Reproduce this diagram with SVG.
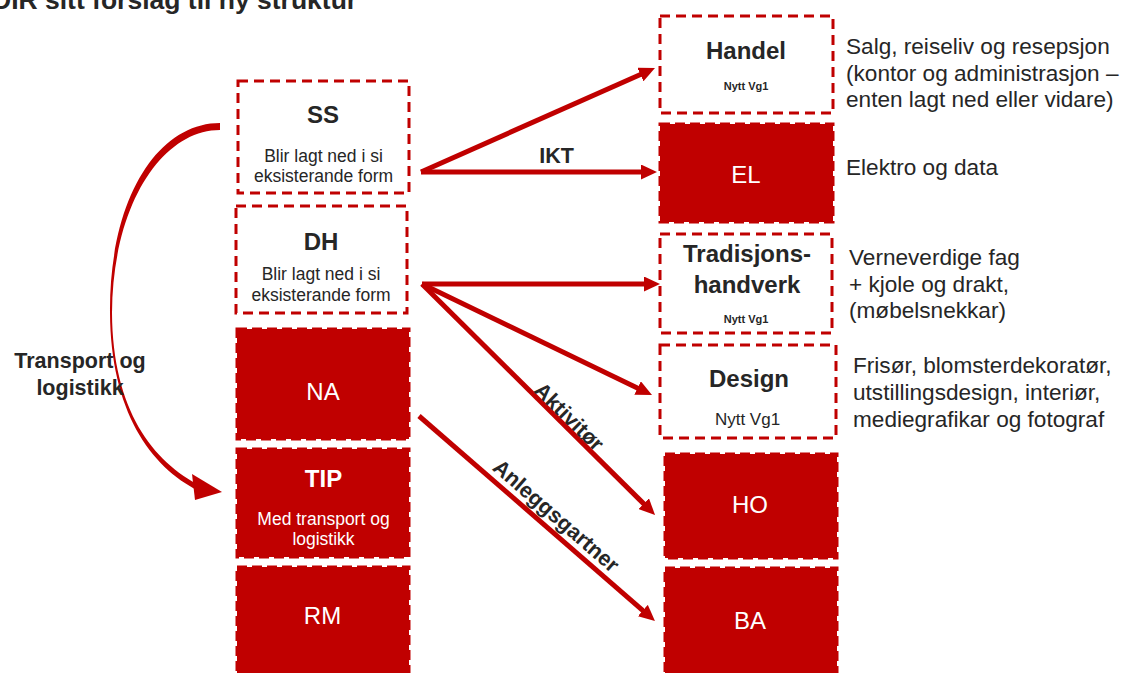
<svg xmlns="http://www.w3.org/2000/svg" width="1125" height="673" viewBox="0 0 1125 673">
<style>
text{font-family:"Liberation Sans",Arial,Helvetica,sans-serif;fill:#262626}
.b{font-weight:bold}
.t{font-size:24px;font-weight:bold;text-anchor:middle}
.s{font-size:17.5px;text-anchor:middle}
.w{fill:#ffffff}
.wl{font-size:24px;text-anchor:middle;fill:#ffffff}
.d{font-size:22.6px}
.lbl{font-size:21.5px;font-weight:bold;text-anchor:middle}
.ob{fill:#ffffff;stroke:#c00000;stroke-width:3;stroke-dasharray:10 6}
.fb{fill:#c00000;stroke:#c00000;stroke-width:3;stroke-dasharray:10 5}
.ar{fill:none;stroke:#c00000;stroke-width:5;marker-end:url(#ah)}
</style>
<defs>
<marker id="ah" markerUnits="userSpaceOnUse" markerWidth="17" markerHeight="15" refX="2" refY="7.5" orient="auto">
<path d="M0,0 L16,7.5 L0,15 z" fill="#c00000"/>
</marker>
</defs>
<rect width="1125" height="673" fill="#ffffff"/>
<text id="title" class="b" x="-8" y="9" font-size="26.5">DIR sitt forslag til ny struktur</text>

<g id="connectors">
<line class="ar" x1="421" y1="172" x2="642.2" y2="73.7"/>
<line class="ar" x1="421" y1="172" x2="643" y2="172"/>
<line class="ar" x1="422" y1="284" x2="646" y2="284"/>
<line class="ar" x1="422" y1="284" x2="639.4" y2="388.9"/>
<line class="ar" x1="422" y1="284" x2="645.1" y2="505.1"/>
<line class="ar" x1="419" y1="416" x2="644.4" y2="611.8"/>
<path d="M220,123 C157,123 109,200 110,313 C110.5,410 150,467 199,491 L201,486 C153,462 112.5,410 112,313 C112.5,205 162,130 220,130 Z" fill="#c00000"/>
<polygon points="222,492 192,474 195,500" fill="#c00000"/>
<text class="lbl" x="556.5" y="163">IKT</text>
<text class="lbl" transform="translate(569,417) rotate(44.3)" x="0" y="7">Aktivitør</text>
<text class="lbl" transform="translate(556,516) rotate(41)" x="0" y="7">Anleggsgartner</text>
<text class="lbl" x="80" y="368" font-size="22">Transport og</text>
<text class="lbl" x="80" y="395" font-size="22">logistikk</text>
</g>

<g id="SS">
<rect class="ob" x="238" y="81" width="171" height="112"/>
<text class="t" x="323" y="123">SS</text>
<text class="s" x="323.5" y="162">Blir lagt ned i si</text>
<text class="s" x="323.5" y="182">eksisterande form</text>
</g>
<g id="DH">
<rect class="ob" x="236" y="206" width="171" height="107"/>
<text class="t" x="321" y="250">DH</text>
<text class="s" x="321" y="280">Blir lagt ned i si</text>
<text class="s" x="321" y="300.5">eksisterande form</text>
</g>
<g id="NA">
<rect class="fb" x="237" y="329" width="172" height="110"/>
<text class="wl" x="323" y="400">NA</text>
</g>
<g id="TIP">
<rect class="fb" x="237" y="449" width="172" height="108"/>
<text class="t w" x="323.5" y="487">TIP</text>
<text class="s w" x="323.5" y="524.5">Med transport og</text>
<text class="s w" x="323.5" y="545">logistikk</text>
</g>
<g id="RM">
<rect class="fb" x="237" y="567" width="172" height="120"/>
<text class="wl" x="322.5" y="624">RM</text>
</g>

<g id="Handel">
<rect class="ob" x="660" y="16" width="173" height="97"/>
<text class="t" x="746" y="59">Handel</text>
<text class="b" x="746" y="90" font-size="11" text-anchor="middle">Nytt Vg1</text>
</g>
<g id="EL">
<rect class="fb" x="660" y="124" width="173" height="98"/>
<text class="wl" x="746" y="183">EL</text>
</g>
<g id="Tradisjonshandverk">
<rect class="ob" x="660" y="234" width="172" height="99"/>
<text class="t" x="747" y="262">Tradisjons-</text>
<text class="t" x="747" y="293">handverk</text>
<text class="b" x="746" y="323" font-size="11" text-anchor="middle">Nytt Vg1</text>
</g>
<g id="Design">
<rect class="ob" x="660" y="345" width="176" height="93"/>
<text class="t" x="749" y="387">Design</text>
<text x="747.5" y="425" font-size="17" text-anchor="middle">Nytt Vg1</text>
</g>
<g id="HO">
<rect class="fb" x="665" y="454" width="172" height="104"/>
<text class="wl" x="750" y="513">HO</text>
</g>
<g id="BA">
<rect class="fb" x="665" y="568" width="172" height="120"/>
<text class="wl" x="750" y="629">BA</text>
</g>

<g id="descriptions">
<text class="d" x="846" y="54">Salg, reiseliv og resepsjon</text>
<text class="d" x="846" y="80.5">(kontor og administrasjon –</text>
<text class="d" x="846" y="107">enten lagt ned eller vidare)</text>
<text class="d" x="846" y="175">Elektro og data</text>
<text class="d" x="849" y="265">Verneverdige fag</text>
<text class="d" x="849" y="291.5">+ kjole og drakt,</text>
<text class="d" x="849" y="318">(møbelsnekkar)</text>
<text class="d" x="853" y="373">Frisør, blomsterdekoratør,</text>
<text class="d" x="853" y="400">utstillingsdesign, interiør,</text>
<text class="d" x="853" y="426.5">mediegrafikar og fotograf</text>
</g>
</svg>
